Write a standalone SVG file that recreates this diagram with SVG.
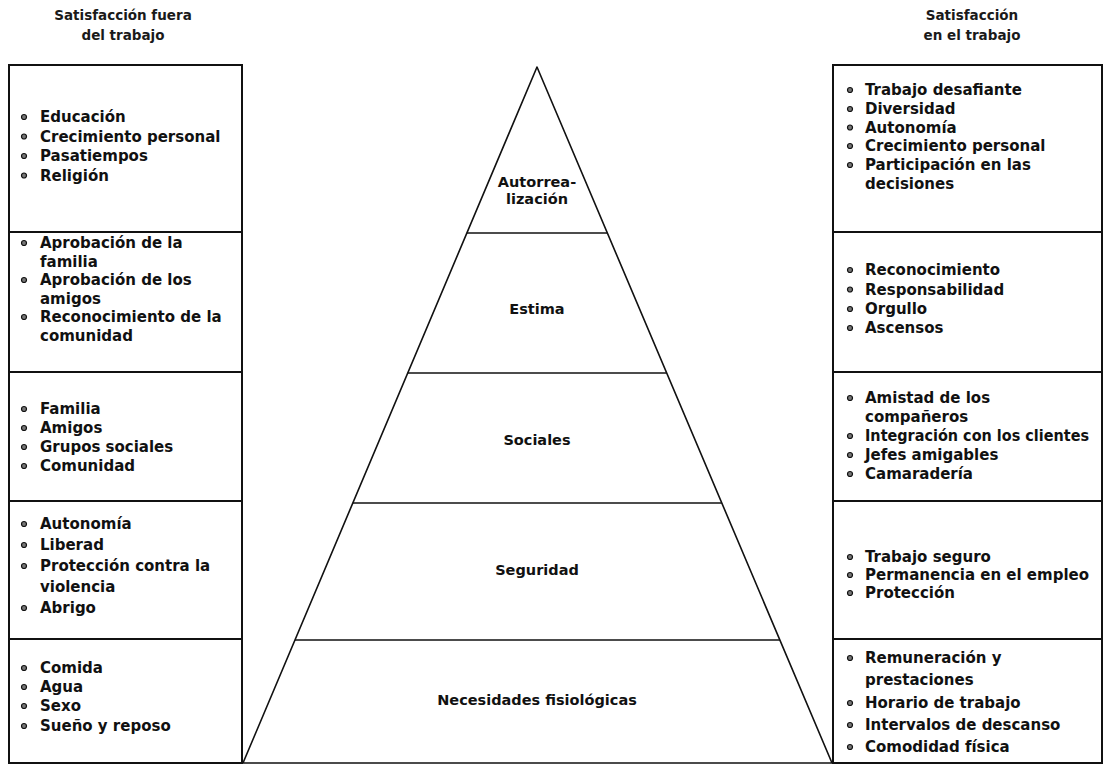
<svg xmlns="http://www.w3.org/2000/svg" width="1105" height="766" viewBox="0 0 1105 766">
<style>
.hd{font-family:"DejaVu Sans","Liberation Sans",sans-serif;font-weight:bold;font-size:13.5px;fill:#1a1a1a;text-anchor:middle}
.it{font-family:"DejaVu Sans","Liberation Sans",sans-serif;font-weight:bold;font-size:15px;fill:#111}
.lv{font-family:"DejaVu Sans","Liberation Sans",sans-serif;font-weight:bold;font-size:14.5px;fill:#111;text-anchor:middle}
.box{fill:#fff;stroke:#111;stroke-width:2}
.pyr{fill:none;stroke:#111;stroke-width:1.6;stroke-linejoin:round}
</style>
<defs>
<circle id="b" r="2.5" fill="#777" stroke="#111" stroke-width="1.2"/>
</defs>
<rect width="1105" height="766" fill="#fff"/>

<g id="header-left">
<text class="hd" x="123" y="20">Satisfacción fuera</text>
<text class="hd" x="123" y="40">del trabajo</text>
</g>
<g id="header-right">
<text class="hd" x="972" y="20">Satisfacción</text>
<text class="hd" x="972" y="40">en el trabajo</text>
</g>

<!-- Left column -->
<g id="left-autorrealizacion">
<rect class="box" x="9" y="65" width="233" height="167"/>
<use href="#b" x="24" y="117"/><text class="it" x="40" y="122">Educación</text>
<use href="#b" x="24" y="136.5"/><text class="it" x="40" y="141.5">Crecimiento personal</text>
<use href="#b" x="24" y="156"/><text class="it" x="40" y="161">Pasatiempos</text>
<use href="#b" x="24" y="175.5"/><text class="it" x="40" y="180.5">Religión</text>
</g>
<g id="left-estima">
<rect class="box" x="9" y="232" width="233" height="140"/>
<use href="#b" x="24" y="243"/><text class="it" x="40" y="248">Aprobación de la</text>
<text class="it" x="40" y="266.5">familia</text>
<use href="#b" x="24" y="280"/><text class="it" x="40" y="285">Aprobación de los</text>
<text class="it" x="40" y="303.5">amigos</text>
<use href="#b" x="24" y="317"/><text class="it" x="40" y="322">Reconocimiento de la</text>
<text class="it" x="40" y="340.5">comunidad</text>
</g>
<g id="left-sociales">
<rect class="box" x="9" y="372" width="233" height="129"/>
<use href="#b" x="24" y="409"/><text class="it" x="40" y="414">Familia</text>
<use href="#b" x="24" y="428"/><text class="it" x="40" y="433">Amigos</text>
<use href="#b" x="24" y="447"/><text class="it" x="40" y="452">Grupos sociales</text>
<use href="#b" x="24" y="466"/><text class="it" x="40" y="471">Comunidad</text>
</g>
<g id="left-seguridad">
<rect class="box" x="9" y="501" width="233" height="138"/>
<use href="#b" x="24" y="524"/><text class="it" x="40" y="529">Autonomía</text>
<use href="#b" x="24" y="545"/><text class="it" x="40" y="550">Liberad</text>
<use href="#b" x="24" y="566"/><text class="it" x="40" y="571">Protección contra la</text>
<text class="it" x="40" y="592">violencia</text>
<use href="#b" x="24" y="608"/><text class="it" x="40" y="613">Abrigo</text>
</g>
<g id="left-fisiologicas">
<rect class="box" x="9" y="639" width="233" height="124"/>
<use href="#b" x="24" y="668"/><text class="it" x="40" y="673">Comida</text>
<use href="#b" x="24" y="687"/><text class="it" x="40" y="692">Agua</text>
<use href="#b" x="24" y="706"/><text class="it" x="40" y="711">Sexo</text>
<use href="#b" x="24" y="726"/><text class="it" x="40" y="731">Sueño y reposo</text>
</g>

<!-- Right column -->
<g id="right-autorrealizacion">
<rect class="box" x="833" y="65" width="269" height="167"/>
<use href="#b" x="850" y="90"/><text class="it" x="865" y="95">Trabajo desafiante</text>
<use href="#b" x="850" y="109"/><text class="it" x="865" y="114">Diversidad</text>
<use href="#b" x="850" y="127.5"/><text class="it" x="865" y="132.5">Autonomía</text>
<use href="#b" x="850" y="146"/><text class="it" x="865" y="151">Crecimiento personal</text>
<use href="#b" x="850" y="165"/><text class="it" x="865" y="170">Participación en las</text>
<text class="it" x="865" y="189">decisiones</text>
</g>
<g id="right-estima">
<rect class="box" x="833" y="232" width="269" height="140"/>
<use href="#b" x="850" y="270"/><text class="it" x="865" y="275">Reconocimiento</text>
<use href="#b" x="850" y="289.5"/><text class="it" x="865" y="294.5">Responsabilidad</text>
<use href="#b" x="850" y="309"/><text class="it" x="865" y="314">Orgullo</text>
<use href="#b" x="850" y="328"/><text class="it" x="865" y="333">Ascensos</text>
</g>
<g id="right-sociales">
<rect class="box" x="833" y="372" width="269" height="129"/>
<use href="#b" x="850" y="398"/><text class="it" x="865" y="403">Amistad de los</text>
<text class="it" x="865" y="422">compañeros</text>
<use href="#b" x="850" y="436"/><text class="it" x="865" y="441" textLength="224" lengthAdjust="spacingAndGlyphs">Integración con los clientes</text>
<use href="#b" x="850" y="455"/><text class="it" x="865" y="460">Jefes amigables</text>
<use href="#b" x="850" y="474"/><text class="it" x="865" y="479">Camaradería</text>
</g>
<g id="right-seguridad">
<rect class="box" x="833" y="501" width="269" height="138"/>
<use href="#b" x="850" y="557"/><text class="it" x="865" y="562">Trabajo seguro</text>
<use href="#b" x="850" y="575"/><text class="it" x="865" y="580">Permanencia en el empleo</text>
<use href="#b" x="850" y="593"/><text class="it" x="865" y="598">Protección</text>
</g>
<g id="right-fisiologicas">
<rect class="box" x="833" y="639" width="269" height="124"/>
<use href="#b" x="850" y="658"/><text class="it" x="865" y="663">Remuneración y</text>
<text class="it" x="865" y="685">prestaciones</text>
<use href="#b" x="850" y="703"/><text class="it" x="865" y="708">Horario de trabajo</text>
<use href="#b" x="850" y="725"/><text class="it" x="865" y="730">Intervalos de descanso</text>
<use href="#b" x="850" y="747"/><text class="it" x="865" y="752">Comodidad física</text>
</g>

<!-- Pyramid -->
<g id="connectors">
<polygon class="pyr" points="537,67 243,763 832,763"/>
<line class="pyr" x1="466.9" y1="233" x2="607.4" y2="233"/>
<line class="pyr" x1="407.7" y1="373" x2="666.7" y2="373"/>
<line class="pyr" x1="352.8" y1="503" x2="721.8" y2="503"/>
<line class="pyr" x1="295" y1="640" x2="779.9" y2="640"/>
</g>
<g id="level-autorrealizacion">
<text class="lv" x="537" y="187">Autorrea-</text>
<text class="lv" x="537" y="204">lización</text>
</g>
<g id="level-estima"><text class="lv" x="537" y="314">Estima</text></g>
<g id="level-sociales"><text class="lv" x="537" y="445">Sociales</text></g>
<g id="level-seguridad"><text class="lv" x="537" y="575">Seguridad</text></g>
<g id="level-fisiologicas"><text class="lv" x="537" y="705">Necesidades fisiológicas</text></g>
</svg>
